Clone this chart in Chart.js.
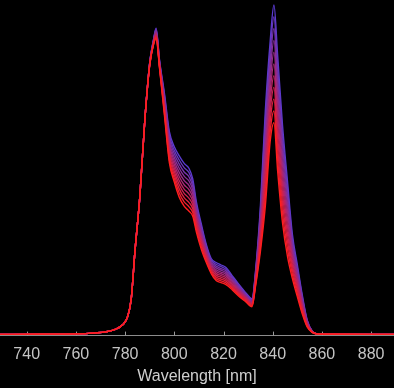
<!DOCTYPE html>
<html>
<head>
<meta charset="utf-8">
<script src="https://cdn.jsdelivr.net/npm/chart.js"></script>
<style>
  html, body { margin: 0; padding: 0; background: #000; }
  #wrap { width: 394px; height: 388px; position: relative; }
</style>
</head>
<body>
<div id="wrap"><canvas id="spectra"></canvas></div>
<script>
// ======= DATA =======
const wavelengths = [729, 745, 760, 768, 772, 776, 779, 781, 782.5, 784, 786, 788,
  790, 791.5, 792.6, 794, 796, 798, 800, 802, 804, 806, 807.5, 809, 811, 813, 815, 817,
  819, 821, 823.5, 826, 829, 831.6, 833, 835, 837, 839, 840.5, 842, 844, 846, 848, 850,
  852, 854, 856, 858, 860, 865, 889.5];

const xTickValues = [740, 760, 780, 800, 820, 840, 860, 880];

// intensity (a.u.), first spectrum = bluest, last = reddest
const spectrum01 = [0, 0.2, 0.5, 1.5, 2.5, 5, 9.5, 17.5, 35.5, 82.5, 137.5, 212.5,
  270.5, 292.5, 304.5, 272.5, 239.5, 201.5, 186.5, 177.5, 170, 165, 154.5, 131.5, 109.5, 89.5, 75.5, 71.5,
  69, 66.5, 58.5, 50.5, 41.5, 35.5, 62.5, 127.5, 222.5, 292.5, 327.5, 277.5, 207.5, 152.5, 99.5, 69.5,
  39.5, 14.5, 3.5, 0.5, 0.2, 0.1, 0];
const spectrum02 = [0, 0.2, 0.5, 1.5, 2.5, 5, 9.5, 17.5, 35.5, 82.5, 137.5, 212.5,
  270.2, 292, 303.5, 271.7, 237.3, 198.4, 183, 173.4, 165.8, 160.8, 150.8, 128.5, 107, 87.7, 74, 69.7,
  67.3, 64.8, 57.1, 49.3, 40.6, 34.7, 61, 123, 213, 282.5, 315.8, 266, 197.8, 145, 95.1, 66.3,
  37.6, 13.8, 3.4, 0.5, 0.2, 0.1, 0];
const spectrum03 = [0, 0.2, 0.5, 1.5, 2.5, 5, 9.5, 17.5, 35.5, 82.5, 137.5, 212.5,
  269.9, 291.5, 302.5, 270.9, 235.1, 195.3, 179.5, 169.3, 161.5, 156.5, 147.1, 125.5, 104.5, 85.9, 72.5, 67.9,
  65.5, 63.1, 55.7, 48.1, 39.7, 33.9, 59.5, 118.5, 203.5, 272.5, 304.1, 254.5, 188.1, 137.5, 90.7, 63.1,
  35.7, 13.1, 3.2, 0.5, 0.2, 0.1, 0];
const spectrum04 = [0, 0.2, 0.5, 1.5, 2.5, 5, 9.5, 17.5, 35.5, 82.5, 137.5, 212.5,
  269.6, 291, 301.5, 270.1, 232.9, 192.2, 176, 165.2, 157.3, 152.3, 143.4, 122.5, 102, 84.1, 71, 66.1,
  63.8, 61.4, 54.3, 46.9, 38.8, 33.1, 58, 114, 194, 262.5, 292.4, 243, 178.4, 130, 86.3, 59.9,
  33.8, 12.4, 3.1, 0.5, 0.2, 0.1, 0];
const spectrum05 = [0, 0.2, 0.5, 1.5, 2.5, 5, 9.5, 17.5, 35.5, 82.5, 137.5, 212.5,
  269.3, 290.5, 300.5, 269.3, 230.7, 189.1, 172.5, 161.1, 153, 148, 139.7, 119.5, 99.5, 82.3, 69.5, 64.3,
  62, 59.7, 52.9, 45.7, 37.9, 32.3, 56.5, 109.5, 184.5, 252.5, 280.7, 231.5, 168.7, 122.5, 81.9, 56.7,
  31.9, 11.7, 2.9, 0.5, 0.2, 0.1, 0];
const spectrum06 = [0, 0.2, 0.5, 1.5, 2.5, 5, 9.5, 17.5, 35.5, 82.5, 137.5, 212.5,
  269, 290, 299.5, 268.5, 228.5, 186, 169, 157, 148.8, 143.8, 136, 116.5, 97, 80.5, 68, 62.5,
  60.3, 58, 51.5, 44.5, 37, 31.5, 55, 105, 175, 242.5, 269, 220, 159, 115, 77.5, 53.5,
  30, 11, 2.8, 0.5, 0.2, 0.1, 0];
const spectrum07 = [0, 0.2, 0.5, 1.5, 2.5, 5, 9.5, 17.5, 35.5, 82.5, 137.5, 212.5,
  268.7, 289.5, 298.5, 267.7, 226.3, 182.9, 165.5, 152.9, 144.5, 139.5, 132.3, 113.5, 94.5, 78.7, 66.5, 60.7,
  58.5, 56.3, 50.1, 43.3, 36.1, 30.7, 53.5, 100.5, 165.5, 232.5, 257.3, 208.5, 149.3, 107.5, 73.1, 50.3,
  28.1, 10.3, 2.6, 0.5, 0.2, 0.1, 0];
const spectrum08 = [0, 0.2, 0.5, 1.5, 2.5, 5, 9.5, 17.5, 35.5, 82.5, 137.5, 212.5,
  268.4, 289, 297.5, 266.9, 224.1, 179.8, 162, 148.8, 140.3, 135.3, 128.6, 110.5, 92, 76.9, 65, 58.9,
  56.8, 54.6, 48.7, 42.1, 35.2, 29.9, 52, 96, 156, 222.5, 245.6, 197, 139.6, 100, 68.7, 47.1,
  26.2, 9.6, 2.5, 0.5, 0.2, 0.1, 0];
const spectrum09 = [0, 0.2, 0.5, 1.5, 2.5, 5, 9.5, 17.5, 35.5, 82.5, 137.5, 212.5,
  268.1, 288.5, 296.5, 266.1, 221.9, 176.7, 158.5, 144.7, 136, 131, 124.9, 107.5, 89.5, 75.1, 63.5, 57.1,
  55, 52.9, 47.3, 40.9, 34.3, 29.1, 50.5, 91.5, 146.5, 212.5, 233.9, 185.5, 129.9, 92.5, 64.3, 43.9,
  24.3, 8.9, 2.3, 0.5, 0.2, 0.1, 0];
const spectrum10 = [0, 0.2, 0.5, 1.5, 2.5, 5, 9.5, 17.5, 35.5, 82.5, 137.5, 212.5,
  267.8, 288, 295.5, 265.3, 219.7, 173.6, 155, 140.6, 131.8, 126.8, 121.2, 104.5, 87, 73.3, 62, 55.3,
  53.3, 51.2, 45.9, 39.7, 33.4, 28.3, 49, 87, 137, 202.5, 222.2, 174, 120.2, 85, 59.9, 40.7,
  22.4, 8.2, 2.2, 0.5, 0.2, 0.1, 0];
const spectrum11 = [0, 0.2, 0.5, 1.5, 2.5, 5, 9.5, 17.5, 35.5, 82.5, 137.5, 212.5,
  267.5, 287.5, 294.5, 264.5, 217.5, 170.5, 151.5, 136.5, 127.5, 122.5, 117.5, 101.5, 84.5, 71.5, 60.5, 53.5,
  51.5, 49.5, 44.5, 38.5, 32.5, 27.5, 47.5, 82.5, 127.5, 192.5, 210.5, 162.5, 110.5, 77.5, 55.5, 37.5,
  20.5, 7.5, 2, 0.5, 0.2, 0.1, 0];

const spectra = [spectrum01, spectrum02, spectrum03, spectrum04, spectrum05, spectrum06,
  spectrum07, spectrum08, spectrum09, spectrum10, spectrum11];

// blue -> red
const lineColors = ['#5a3ad0', '#6636bd', '#7632aa', '#862e98', '#972a86', '#a82774',
  '#ba2462', '#cb2250', '#dc203f', '#ee1e2e', '#ff1e1e'];

// ======= INWARD TICK MARKS ON THE X AXIS =======
const innerTicks = {
  id: 'innerTicks',
  beforeDatasetsDraw(chart) {
    const { ctx, chartArea } = chart;
    const x = chart.scales.x;
    ctx.save();
    ctx.strokeStyle = '#9a9a9a';
    ctx.lineWidth = 1;
    x.ticks.forEach(t => {
      const px = Math.round(x.getPixelForValue(t.value)) + 0.5;
      ctx.beginPath();
      ctx.moveTo(px, chartArea.bottom);
      ctx.lineTo(px, chartArea.bottom - 4);
      ctx.stroke();
    });
    ctx.restore();
  }
};

const datasets = spectra.map((ys, i) => ({
  data: wavelengths.map((w, j) => ({ x: w, y: ys[j] })),
  borderColor: lineColors[i],
  borderWidth: 1.4,
  pointRadius: 0,
  cubicInterpolationMode: 'monotone',
  order: spectra.length - i   // reddest drawn on top
}));

new Chart(document.getElementById('spectra'), {
  type: 'line',
  data: { datasets: datasets },
  plugins: [innerTicks],
  options: {
    responsive: true,
    maintainAspectRatio: false,
    animation: false,
    layout: { padding: 0 },
    plugins: { legend: { display: false }, tooltip: { enabled: false } },
    scales: {
      x: {
        type: 'linear',
        min: 729.15,
        max: 889.3,
        afterBuildTicks: scale => { scale.ticks = xTickValues.map(v => ({ value: v })); },
        grid: { display: true, drawOnChartArea: false, drawTicks: false },
        border: { display: true, color: '#8c8c8c', width: 1 },
        ticks: {
          padding: 9,
          color: '#c4c4c4',
          font: { family: 'Liberation Sans', size: 16 },
          maxRotation: 0
        },
        title: {
          display: true,
          text: 'Wavelength [nm]',
          color: '#cfcfcf',
          font: { family: 'Liberation Sans', size: 16 },
          padding: { top: -6, bottom: 2 }
        }
      },
      y: {
        display: false,
        min: -1.2,
        max: 332.5
      }
    }
  }
});
</script>
</body>
</html>
